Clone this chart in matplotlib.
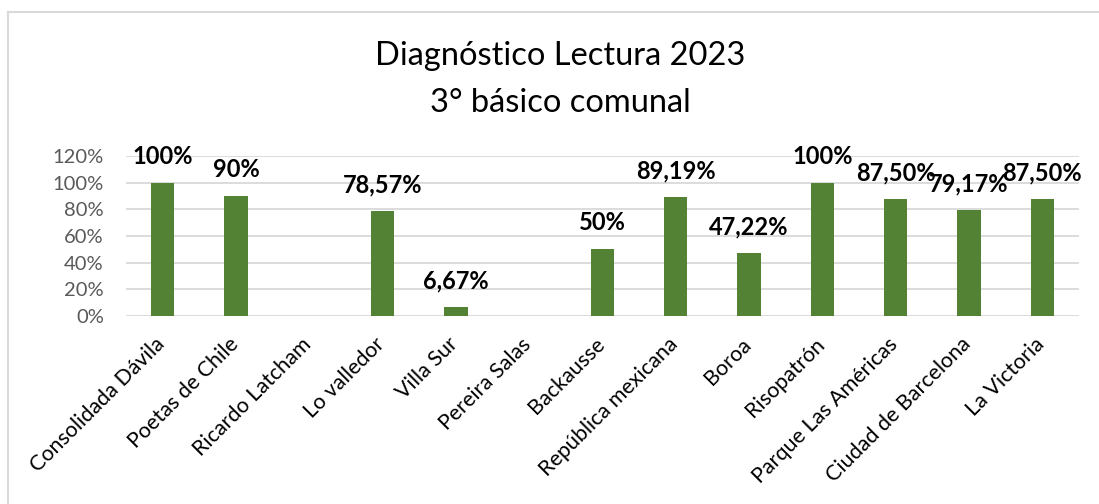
import matplotlib.pyplot as plt
from matplotlib.lines import Line2D
from matplotlib.ticker import FuncFormatter
from matplotlib.transforms import ScaledTranslation

plt.rcParams['font.family'] = ['Lato', 'DejaVu Sans']

# data
schools = ['Consolidada Dávila', 'Poetas de Chile', 'Ricardo Latcham', 'Lo valledor',
           'Villa Sur', 'Pereira Salas', 'Backausse', 'República mexicana', 'Boroa',
           'Risopatrón', 'Parque Las Américas', 'Ciudad de Barcelona', 'La Victoria']
values = [1.00, 0.90, None, 0.7857, 0.0667, None, 0.50, 0.8919, 0.4722,
          1.00, 0.875, 0.7917, 0.875]
labels = ['100%', '90%', '', '78,57%', '6,67%', '', '50%', '89,19%', '47,22%',
          '100%', '87,50%', '79,17%', '87,50%']

W, H = 1099, 504
fig = plt.figure(figsize=(W / 100, H / 100), dpi=100)
ax = fig.add_axes([126/W, 1 - 316/H, (1079-126)/W, 160/H])

x = list(range(len(schools)))
heights = [v if v is not None else 0 for v in values]
ax.bar(x, heights, width=0.318, color='#548235', zorder=3)

for xi, v, lab in zip(x, values, labels):
    if v is None:
        continue
    ax.annotate(lab, (xi, v), xytext=(0, 13.7), textcoords='offset points',
                ha='center', va='baseline', fontsize=17, fontweight='bold',
                color='black', zorder=4, annotation_clip=False)

ax.set_xlim(-0.5, len(schools) - 0.5)
ax.set_ylim(0, 1.2)
ax.set_yticks([0, 0.2, 0.4, 0.6, 0.8, 1.0, 1.2])
ax.yaxis.set_major_formatter(FuncFormatter(lambda v, p: f'{v*100:.0f}%'))
ax.grid(axis='y', color='#d9d9d9', linewidth=1.3, zorder=0)
for s in ax.spines.values():
    s.set_visible(False)
ax.tick_params(axis='y', length=0, labelsize=14.5, colors='#595959', pad=16)
ax.tick_params(axis='x', length=0, pad=13)
ax.set_xticks(x)
ax.set_xticklabels(schools, rotation=45, ha='right', rotation_mode='anchor',
                   fontsize=15.5, color='black')
# nudge rotated labels a little to the left
shift = ScaledTranslation(-8/100, 0, fig.dpi_scale_trans)
for t in ax.get_xticklabels():
    t.set_transform(t.get_transform() + shift)

fig.text(560/W, 1 - 65/H, 'Diagnóstico Lectura 2023', ha='center', va='baseline', fontsize=23.5)
fig.text(560/W, 1 - 111.5/H, '3° básico comunal', ha='center', va='baseline', fontsize=23.5)

# chart border
fig.add_artist(Line2D([7.5/W, 1], [1 - 11.5/H] * 2, color='#d9d9d9', lw=1.5))
fig.add_artist(Line2D([7.5/W] * 2, [0, 1 - 11.5/H], color='#d9d9d9', lw=1.5))

fig.savefig('out.png', dpi=100)
